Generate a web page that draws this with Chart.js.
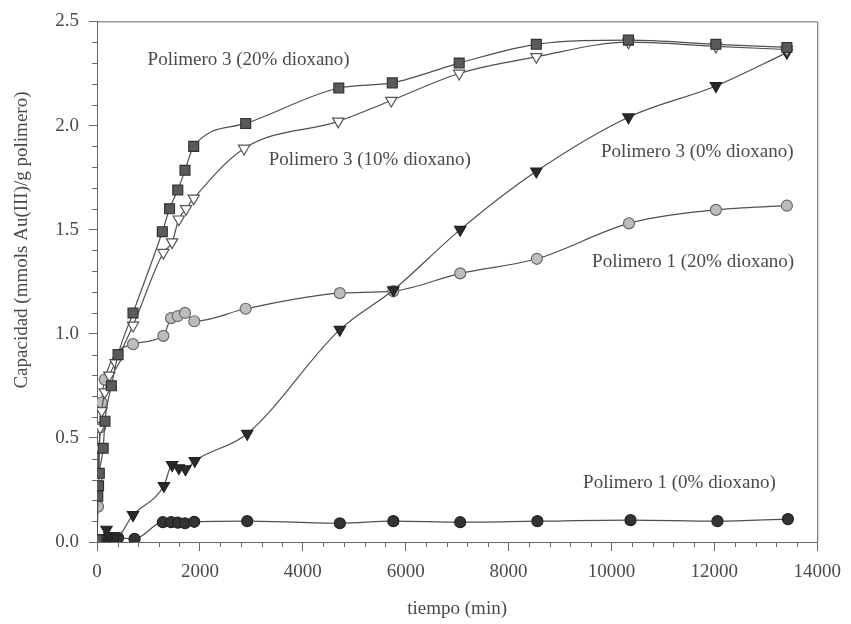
<!DOCTYPE html>
<html><head><meta charset="utf-8">
<script src="https://cdn.jsdelivr.net/npm/chart.js@4.4.1/dist/chart.umd.min.js"></script>
<style>html,body{margin:0;padding:0;background:#fff;}canvas{display:block;}</style>
</head><body>
<canvas id="c" width="851" height="624"></canvas>
<script>
// ---- data (time in min, capacity in mmols Au(III)/g polimero) ----
const p3d20Time = [0, 15, 30, 45, 120, 155, 280, 410, 700, 1270, 1410, 1570, 1710, 1880, 2890, 4700, 5740, 7040, 8540, 10330, 12030, 13410];
const p3d20Cap  = [0.01, 0.22, 0.27, 0.33, 0.45, 0.58, 0.75, 0.90, 1.10, 1.49, 1.60, 1.69, 1.785, 1.90, 2.01, 2.18, 2.205, 2.30, 2.39, 2.41, 2.39, 2.375];

const p3d10Time = [0, 20, 40, 60, 90, 150, 240, 360, 700, 1290, 1460, 1590, 1730, 1880, 2860, 4690, 5720, 7040, 8540, 10330, 12030, 13410];
const p3d10Cap  = [0.01, 0.30, 0.45, 0.55, 0.63, 0.72, 0.80, 0.86, 1.04, 1.39, 1.44, 1.55, 1.60, 1.65, 1.89, 2.02, 2.12, 2.25, 2.33, 2.40, 2.38, 2.365];

const p3d0Time = [0, 60, 120, 185, 240, 360, 700, 1300, 1460, 1590, 1720, 1900, 2920, 4720, 5760, 7060, 8540, 10330, 12030, 13410];
const p3d0Cap  = [0.0, 0.01, 0.02, 0.06, 0.03, 0.02, 0.13, 0.27, 0.37, 0.355, 0.35, 0.39, 0.52, 1.02, 1.21, 1.50, 1.78, 2.04, 2.19, 2.35];

const p1d20Time = [0, 20, 60, 90, 150, 700, 1290, 1440, 1570, 1710, 1890, 2890, 4720, 5760, 7060, 8550, 10340, 12030, 13410];
const p1d20Cap  = [0.01, 0.17, 0.55, 0.67, 0.78, 0.95, 0.99, 1.075, 1.085, 1.10, 1.06, 1.12, 1.195, 1.205, 1.29, 1.36, 1.53, 1.595, 1.615];

const p1d0Time = [0, 30, 60, 120, 180, 280, 410, 730, 1280, 1440, 1570, 1710, 1890, 2920, 4720, 5760, 7060, 8560, 10370, 12060, 13430];
const p1d0Cap  = [0.0, 0.0, 0.01, 0.0, 0.01, 0.01, 0.02, 0.015, 0.095, 0.095, 0.093, 0.09, 0.097, 0.10, 0.09, 0.10, 0.095, 0.10, 0.105, 0.10, 0.11];

const seriesNames = ["Polimero 3 (20% dioxano)", "Polimero 3 (10% dioxano)", "Polimero 3 (0% dioxano)", "Polimero 1 (20% dioxano)", "Polimero 1 (0% dioxano)"];

const xTickLabels = ["0", "2000", "4000", "6000", "8000", "10000", "12000", "14000"];
const yTickLabels = ["0.0", "0.5", "1.0", "1.5", "2.0", "2.5"];

// label anchors in data units [time, capacity]
const labelAnchors = [[983, 2.313], [3336, 1.833], [9796, 1.871], [9623, 1.344], [9449, 0.283]];

const toPts = (t, v) => t.map((x, i) => ({x: x, y: v[i]}));

const FONT = '"Liberation Serif", "Times New Roman", serif';
const TXT = '#4a4a4a';
const LINE = '#4f4f4f';

function ds(label, t, v, style, order) {
  return Object.assign({
    label: label, data: toPts(t, v), borderColor: LINE, borderWidth: 1.2,
    cubicInterpolationMode: 'monotone', showLine: true, order: order,
    pointBorderWidth: 1.2
  }, style);
}

const datasets = [
  ds(seriesNames[0], p3d20Time, p3d20Cap, {pointStyle: 'rect', pointRadius: 7, pointBackgroundColor: '#5a5a5a', pointBorderColor: '#333'}, 1),
  ds(seriesNames[1], p3d10Time, p3d10Cap, {pointStyle: 'triangle', pointRotation: 180, pointRadius: 6.5, pointBackgroundColor: '#ffffff', pointBorderColor: '#555'}, 2),
  ds(seriesNames[2], p3d0Time, p3d0Cap, {pointStyle: 'triangle', pointRotation: 180, pointRadius: 6.5, pointBackgroundColor: '#2a2a2a', pointBorderColor: '#222'}, 3),
  ds(seriesNames[3], p1d20Time, p1d20Cap, {pointStyle: 'circle', pointRadius: 5.5, pointBackgroundColor: '#bdbdbd', pointBorderColor: '#6a6a6a'}, 4),
  ds(seriesNames[4], p1d0Time, p1d0Cap, {pointStyle: 'circle', pointRadius: 5.5, pointBackgroundColor: '#333', pointBorderColor: '#222'}, 5)
];

const extras = {
  id: 'extras',
  afterDraw(chart) {
    const ctx = chart.ctx, a = chart.chartArea, xs = chart.scales.x, ys = chart.scales.y;
    ctx.save();
    ctx.strokeStyle = '#666'; ctx.lineWidth = 1;
    // top and right frame
    ctx.beginPath();
    ctx.moveTo(a.left, a.top + 0.5); ctx.lineTo(a.right + 0.5, a.top + 0.5); ctx.lineTo(a.right + 0.5, a.bottom);
    ctx.stroke();
    // minor ticks
    ctx.beginPath();
    for (let v = 400; v < 14000; v += 400) {
      if (v % 2000 === 0) continue;
      const px = Math.round(xs.getPixelForValue(v)) + 0.5;
      ctx.moveTo(px, a.bottom); ctx.lineTo(px, a.bottom + 5);
    }
    for (let k = 1; k < 25; k++) {
      if (k % 5 === 0) continue;
      const py = Math.round(ys.getPixelForValue(k / 10)) + 0.5;
      ctx.moveTo(a.left - 5, py); ctx.lineTo(a.left, py);
    }
    ctx.stroke();
    // series annotations
    ctx.fillStyle = TXT; ctx.font = '19px ' + FONT; ctx.textAlign = 'left'; ctx.textBaseline = 'middle';
    labelAnchors.forEach((p, i) => {
      ctx.fillText(seriesNames[i], xs.getPixelForValue(p[0]), ys.getPixelForValue(p[1]));
    });
    // y axis title
    ctx.save();
    ctx.translate(22, ys.getPixelForValue(1.45));
    ctx.rotate(-Math.PI / 2);
    ctx.textAlign = 'center';
    ctx.font = '19px ' + FONT;
    ctx.fillText('Capacidad (mmols Au(III)/g polimero)', 0, 0);
    ctx.restore();
    ctx.restore();
  }
};

new Chart(document.getElementById('c'), {
  type: 'scatter',
  data: {datasets: datasets},
  plugins: [extras],
  options: {
    responsive: false, animation: false, devicePixelRatio: 1,
    layout: {padding: {left: 0, top: 21, right: 29, bottom: 0}},
    plugins: {legend: {display: false}, tooltip: {enabled: false}},
    scales: {
      x: {
        type: 'linear', min: 0, max: 14000,
        afterFit: s => { s.height = 82; },
        afterBuildTicks: s => { s.ticks = xTickLabels.map(l => ({value: Number(l)})); },
        ticks: {stepSize: 2000, color: TXT, font: {family: FONT, size: 19}, padding: 10, maxRotation: 0,
                callback: (v, i) => xTickLabels[i]},
        grid: {drawOnChartArea: false, drawTicks: true, tickLength: 9, color: '#666'},
        border: {display: true, color: '#666', width: 1},
        title: {display: true, text: 'tiempo (min)', color: TXT, font: {family: FONT, size: 19}, padding: {top: 0, bottom: 4}}
      },
      y: {
        type: 'linear', min: 0, max: 2.5,
        afterFit: s => { s.width = 97; },
        afterBuildTicks: s => { s.ticks = yTickLabels.map(l => ({value: Number(l)})); },
        ticks: {stepSize: 0.5, color: TXT, font: {family: FONT, size: 19}, padding: 10,
                callback: (v, i) => yTickLabels[i]},
        grid: {drawOnChartArea: false, drawTicks: true, tickLength: 8, color: '#666'},
        border: {display: true, color: '#666', width: 1}
      }
    }
  }
});
</script>
</body></html>
